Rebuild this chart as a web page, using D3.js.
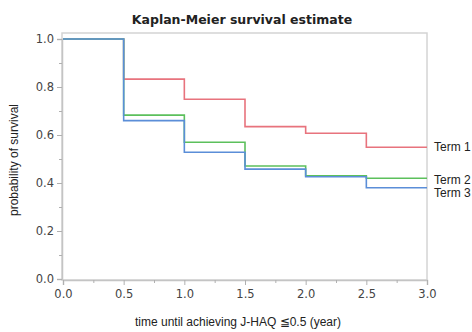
<!DOCTYPE html>
<html>
<head>
<meta charset="utf-8">
<script src="https://cdn.jsdelivr.net/npm/d3@7"></script>
<style>
  body { margin: 0; background: #fff; }
  text { font-family: "DejaVu Sans", sans-serif; }
</style>
</head>
<body>
<div id="chart"></div>
<script>
// step times (years) and survival after each step
var times = [0, 0.5, 1.0, 1.5, 2.0, 2.5, 3.0];
var term1 = [1.0, 0.833, 0.749, 0.635, 0.607, 0.549];
var term2 = [1.0, 0.683, 0.570, 0.471, 0.430, 0.420];
var term3 = [1.0, 0.660, 0.528, 0.458, 0.426, 0.380];
var seriesNames = ["Term 1", "Term 2", "Term 3"];
var yTicks = [0, 0.2, 0.4, 0.6, 0.8, 1.0];
var xTicks = [0, 0.5, 1.0, 1.5, 2.0, 2.5, 3.0];

var width = 472, height = 332;
var colors = ["#e8737d", "#5cc05c", "#5b8ed8"];

var svg = d3.select("#chart").append("svg")
    .attr("width", width)
    .attr("height", height);

var x = d3.scaleLinear().domain([0, 3]).range([63, 427]);
var y = d3.scaleLinear().domain([0, 1]).range([279, 39]);

// frame
svg.append("rect")
    .attr("x", 62).attr("y", 33)
    .attr("width", 365).attr("height", 247)
    .attr("fill", "none")
    .attr("stroke", "#d4d4d4")
    .attr("stroke-width", 1.5);

// y axis
var yAxis = svg.append("g")
    .attr("transform", "translate(62,0)")
    .call(d3.axisLeft(y).tickValues(yTicks).tickFormat(d3.format(".1f")).tickSize(5).tickPadding(3));
svg.append("g")
    .attr("transform", "translate(62,0)")
    .call(d3.axisLeft(y).tickValues(d3.range(0.1, 1, 0.2)).tickFormat("").tickSize(3))
    .select(".domain").remove();

// x axis
var xAxis = svg.append("g")
    .attr("transform", "translate(0,280)")
    .call(d3.axisBottom(x).tickValues(xTicks).tickFormat(d3.format(".1f")).tickSize(5).tickPadding(5));
svg.append("g")
    .attr("transform", "translate(0,280)")
    .call(d3.axisBottom(x).tickValues(d3.range(0.25, 3, 0.5)).tickFormat("").tickSize(3))
    .select(".domain").remove();

svg.selectAll(".domain").attr("stroke", "#c4c4c4").attr("stroke-width", 1.5);
svg.selectAll(".tick line").attr("stroke", "#b0b0b0");
svg.selectAll(".tick text")
    .attr("fill", "#444")
    .style("font-size", "11.5px");

// step lines
var series = [term1, term2, term3];
series.forEach(function (vals, i) {
    var pts = vals.map(function (v, j) { return [times[j], v]; });
    pts.push([times[times.length - 1], vals[vals.length - 1]]);
    svg.append("path")
        .datum(pts)
        .attr("fill", "none")
        .attr("stroke", colors[i])
        .attr("stroke-width", 1.6)
        .attr("d", d3.line()
            .x(function (d) { return x(d[0]); })
            .y(function (d) { return y(d[1]); })
            .curve(d3.curveStepAfter));
});

// end labels
var labelY = [term1[5], term2[5] - 0.005, term3[5] - 0.02];
seriesNames.forEach(function (n, i) {
    svg.append("text")
        .attr("x", 434)
        .attr("y", y(labelY[i]))
        .attr("dy", "0.35em")
        .attr("fill", "#222")
        .style("font-family", "Liberation Sans, sans-serif")
        .style("font-size", "12px")
        .text(n);
});

// title and axis titles
svg.append("text")
    .attr("x", 242).attr("y", 24)
    .attr("text-anchor", "middle")
    .attr("fill", "#222")
    .style("font-size", "12.5px")
    .style("font-weight", "bold")
    .text("Kaplan-Meier survival estimate");

svg.append("text")
    .attr("transform", "translate(18,160) rotate(-90)")
    .attr("text-anchor", "middle")
    .attr("fill", "#222")
    .style("font-family", "Liberation Sans, sans-serif")
    .style("font-size", "12px")
    .text("probability of survival");

svg.append("text")
    .attr("x", 238).attr("y", 326)
    .attr("text-anchor", "middle")
    .attr("fill", "#222")
    .style("font-family", "Liberation Sans, sans-serif")
    .style("font-size", "12px")
    .text("time until achieving J-HAQ \u22660.5 (year)");
</script>
</body>
</html>
